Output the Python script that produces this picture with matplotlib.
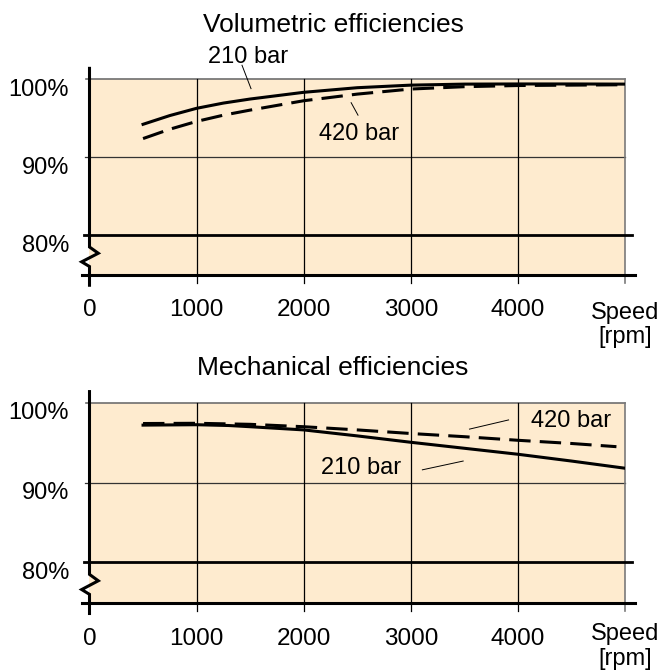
import numpy as np
import matplotlib
matplotlib.use('Agg')
import matplotlib.pyplot as plt

plt.rcParams['font.family'] = ['Liberation Sans', 'DejaVu Sans']

# --- data ---
speed_vol = [500, 750, 1000, 1250, 1500, 2000, 2500, 3000, 3500, 4000, 4500, 5000]
vol_210 = [94.23, 95.35, 96.28, 96.95, 97.47, 98.33, 98.92, 99.25, 99.38, 99.4, 99.4, 99.38]
vol_420 = [92.4, 93.6, 94.6, 95.4, 96.05, 97.25, 98.1, 98.75, 99.05, 99.2, 99.25, 99.3]

speed_mech = [500, 1000, 1300, 1500, 2000, 2500, 3000, 3500, 4000, 4500, 5000]
mech_210 = [97.2, 97.25, 97.15, 97.0, 96.6, 95.85, 95.05, 94.3, 93.55, 92.7, 91.8]
speed_mech_420 = [500, 1000, 1500, 2000, 2500, 3000, 3500, 4000, 4500, 4920]
mech_420 = [97.4, 97.43, 97.3, 97.0, 96.6, 96.15, 95.75, 95.3, 94.9, 94.5]

x_ticks = [0, 1000, 2000, 3000, 4000]
y_levels = [100, 90, 80]
y_labels = ['100%', '90%', '80%']

BEIGE = '#FEEBCF'
AX_BOTTOM = 74.9   # baseline under the axis break
TICK_END = 73.9
FS = 17

W, H = 659, 672
fig = plt.figure(figsize=(W / 100, H / 100), dpi=100)


def make_panel(rect, title, title_y, speed_off):
    ax = fig.add_axes(rect)
    ax.set_xlim(0, 5000)
    ax.set_ylim(73.4, 101.6)
    for s in ax.spines.values():
        s.set_visible(False)
    ax.set_yticks([])
    ax.set_xticks(x_ticks, [str(t) for t in x_ticks], fontsize=17.5)
    ax.tick_params(axis='x', length=0, pad=9)

    ax.fill_between([0, 5000], AX_BOTTOM, 100, color=BEIGE, lw=0, zorder=0)

    # horizontal lines
    ax.plot([-33, 5000], [100, 100], color='#6e6e6e', lw=1.2, zorder=1, clip_on=False)
    ax.plot([-42, 5000], [90, 90], color='#333333', lw=0.9, zorder=1, clip_on=False)
    ax.plot([-51, 5070], [80, 80], color='black', lw=2.0, zorder=2, clip_on=False)
    ax.plot([-70, 5090], [AX_BOTTOM, AX_BOTTOM], color='black', lw=2.2, zorder=2, clip_on=False)

    # vertical grid + ticks
    for xv in x_ticks[1:]:
        ax.plot([xv, xv], [100, TICK_END], color='black', lw=0.9, zorder=1, clip_on=False)
    ax.plot([5000, 5000], [100, TICK_END], color='#7a7a7a', lw=1.2, zorder=1, clip_on=False)

    # y axis with break symbol
    ax.plot([0, 0, 82, -73, 0, 0], [101.4, 78.5, 77.7, 76.6, 76.0, 73.6],
            color='black', lw=2.2, zorder=3, clip_on=False, solid_joinstyle='miter')

    for yv, lab in zip(y_levels, y_labels):
        ax.text(-190, yv + 0.1, lab, ha='right', va='top', fontsize=FS)

    ax.text(5000, AX_BOTTOM - speed_off, 'Speed\n[rpm]', ha='center', va='center',
            fontsize=FS, linespacing=1.15)
    fig.text(333 / W, title_y, title, ha='center', va='center', fontsize=19)
    return ax


# top panel: volumetric
ax1 = make_panel([89.5 / W, 1 - 286.8 / H, 535.5 / W, 220 / H],
                 'Volumetric efficiencies', 1 - 25 / H, 6.4)
ax1.plot(speed_vol, vol_210, color='black', lw=2.2, zorder=4)
ax1.plot(speed_vol, vol_420, color='black', lw=2.2, dashes=(7, 3), zorder=4)
ax1.plot([1424, 1508], [101.8, 98.8], color='black', lw=0.7, clip_on=False)
ax1.text(1480, 102.8, '210 bar', ha='center', va='center', fontsize=FS)
ax1.plot([2443, 2507], [97.0, 95.4], color='black', lw=0.7)
ax1.text(2520, 93.0, '420 bar', ha='center', va='center', fontsize=FS)

# bottom panel: mechanical
ax2 = make_panel([89.5 / W, 1 - 615.1 / H, 535.5 / W, 225.1 / H],
                 'Mechanical efficiencies', 1 - 368 / H, 5.4)
ax2.plot(speed_mech, mech_210, color='black', lw=2.2, zorder=4)
ax2.plot(speed_mech_420, mech_420, color='black', lw=2.2, dashes=(7, 3), zorder=4)
ax2.plot([3548, 3913], [96.7, 97.85], color='black', lw=0.7)
ax2.text(4500, 97.7, '420 bar', ha='center', va='center', fontsize=FS)
ax2.plot([3108, 3489], [91.6, 92.7], color='black', lw=0.7)
ax2.text(2540, 91.8, '210 bar', ha='center', va='center', fontsize=FS)

fig.savefig('out.png', dpi=100)
